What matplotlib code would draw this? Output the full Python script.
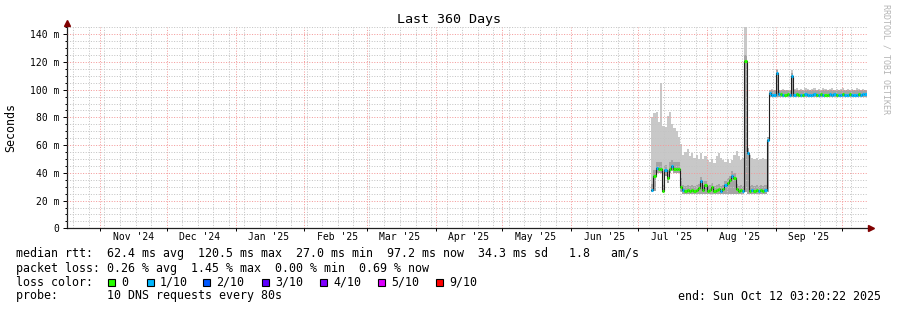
import matplotlib
matplotlib.use('Agg')
import matplotlib.pyplot as plt
import matplotlib.dates as mdates
import matplotlib.transforms as mtransforms
from matplotlib.patches import Rectangle
from matplotlib.ticker import MultipleLocator, NullFormatter
import pandas as pd

plt.rcParams['font.family'] = ['DejaVu Sans Mono', 'DejaVu Sans']

# time frame of the graph
graph_start = pd.Timestamp('2024-10-17 03:20:22')
graph_end = pd.Timestamp('2025-10-12 03:20:22')
data_start = pd.Timestamp('2025-07-07')

# one value per day (ms)
median_ms = [27.5, 38, 43.5, 43, 43, 27, 42, 36, 43, 45,
             43, 43, 43, 30, 27.5, 27, 27.5, 27, 27.5, 27,
             27.5, 29, 34, 27.5, 31, 27, 27.5, 30, 27, 27.5,
             28.5, 27, 28, 31, 33, 35, 38, 36, 28, 27,
             27.5, 27, 120.5, 54, 27, 27.5, 27, 27.5, 27, 27.5,
             27, 27.5, 63.5, 97.5, 96.5, 96.5, 112, 97, 97, 96.5,
             96.5, 97, 96.5, 110, 96.5, 97, 96.5, 96, 96.5, 97,
             96.5, 96, 96.5, 97, 96.5, 96.5, 97, 96.5, 96, 96.5,
             97, 96.5, 97, 96.5, 96, 96.5, 97, 96.5, 96.5, 97,
             96.5, 96, 96.5, 97, 96.5, 97, 97.2]

loss_tenths = [1, 0, 1, 0, 0, 0, 1, 0, 0, 1,
               0, 0, 0, 0, 1, 0, 0, 0, 0, 0,
               0, 0, 1, 0, 0, 0, 0, 0, 0, 0,
               0, 1, 0, 1, 0, 0, 1, 0, 0, 0,
               0, 1, 0, 1, 0, 1, 0, 0, 1, 0,
               0, 1, 1, 1, 1, 1, 1, 1, 0, 1,
               0, 0, 1, 1, 1, 0, 0, 1, 0, 1,
               1, 1, 1, 1, 0, 1, 0, 1, 0, 0,
               1, 1, 1, 0, 1, 1, 0, 1, 1, 0,
               1, 1, 1, 0, 1, 1, 1]

smoke_lo_ms = [26, 27, 40, 40, 40, 26, 38, 33, 40, 41,
               40, 40, 40, 26, 25, 24.5, 24.5, 25, 24.5, 24.5,
               25, 24.5, 24.5, 25, 24.5, 24.5, 24.5, 25, 24.5, 24.5,
               24.5, 25, 24.5, 24.5, 25, 24.5, 24.5, 25, 24.5, 24.5,
               24.5, 25, 26, 25, 24.5, 24.5, 25, 24.5, 24.5, 25,
               24.5, 24.5, 26, 94.5, 94.5, 94.5, 95, 94.5, 94.5, 94.5,
               94.5, 95, 94.5, 94.5, 94.5, 95, 94.5, 94.5, 94.5, 95,
               94.5, 94.5, 95, 94.5, 94.5, 94.5, 95, 94.5, 94.5, 94.5,
               95, 94.5, 94.5, 94.5, 95, 94.5, 94.5, 94.5, 95, 94.5,
               94.5, 94.5, 95, 94.5, 94.5, 94.5, 95]

smoke_mid_ms = [32, 42, 48, 48, 48, 31, 46, 42, 48, 49,
                48, 48, 48, 36, 31, 30.5, 31, 30.5, 31, 30.5,
                31, 32, 37, 31, 34, 30.5, 31, 33, 30.5, 31,
                32, 30.5, 31, 34, 36, 38, 41, 40, 32, 30.5,
                31, 30.5, 125, 58, 30.5, 31, 30.5, 31, 30.5, 31,
                30.5, 31, 66, 99.5, 99.5, 99.5, 114, 99.5, 99.5, 99.5,
                99.5, 99.5, 99.5, 112, 99.5, 99.5, 99.5, 99.5, 99.5, 99.5,
                99.5, 99.5, 99.5, 99.5, 99.5, 99.5, 99.5, 99.5, 99.5, 99.5,
                99.5, 99.5, 99.5, 99.5, 99.5, 99.5, 99.5, 99.5, 99.5, 99.5,
                99.5, 99.5, 99.5, 99.5, 99.5, 99.5, 99.5]

smoke_hi_ms = [80, 83, 84, 77, 105, 74, 73, 81, 84, 75,
               72, 70, 66, 61, 53, 55, 57, 52, 54, 51,
               53, 50, 54, 50, 52, 49, 48, 50, 47, 52,
               54, 51, 49, 48, 50, 47, 49, 53, 56, 52,
               49, 51, 150, 52, 53, 51, 50, 51, 49, 50,
               51, 50, 66, 100, 100.5, 100, 115, 100, 100, 100.5,
               100, 99.5, 100, 114, 100.5, 101, 100, 100.5, 100, 101,
               100.5, 100, 100.5, 101, 100, 100.5, 100, 101, 100.5, 100,
               100.5, 101, 100, 100.5, 100, 100.5, 101, 100, 100.5, 100,
               100.5, 100, 101, 100.5, 100, 100.5, 100]

loss_levels = [0, 1, 2, 3, 4, 5, 9]
loss_labels = ['0', '1/10', '2/10', '3/10', '4/10', '5/10', '9/10']
loss_colors = ['#26ff00', '#00b8ff', '#0059ff', '#5e00ff', '#7e00ff', '#dd00ff', '#ff0000']

month_labels = ["Nov '24", "Dec '24", "Jan '25", "Feb '25", "Mar '25", "Apr '25",
                "May '25", "Jun '25", "Jul '25", "Aug '25", "Sep '25"]
y_ticks = [0, 20, 40, 60, 80, 100, 120, 140]
y_labels = ['0', '20 m', '40 m', '60 m', '80 m', '100 m', '120 m', '140 m']

stats_rtt = 'median rtt:  62.4 ms avg  120.5 ms max  27.0 ms min  97.2 ms now  34.3 ms sd   1.8   am/s'
stats_loss = 'packet loss: 0.26 % avg  1.45 % max  0.00 % min  0.69 % now'
probe_text = 'probe:       10 DNS requests every 80s'
end_text = 'end: Sun Oct 12 03:20:22 2025'

# ----------------------------- PLOT -----------------------------
W, H = 897, 310
fig = plt.figure(figsize=(W / 100, H / 100), dpi=100)
ax = fig.add_axes([67 / W, 1 - 228.3 / H, 800 / W, 201 / H])


def px(x, y):
    return x / W, 1 - y / H


def ext(a):
    return list(a) + [a[-1]]


edges = mdates.date2num(pd.date_range(data_start, periods=len(median_ms) + 1, freq='D'))

# smoke
ax.fill_between(edges, ext(smoke_lo_ms), ext(smoke_hi_ms), step='post',
                color='#c8c8c8', lw=0, zorder=1)
ax.fill_between(edges, ext(smoke_lo_ms), ext(smoke_mid_ms), step='post',
                color='#a4a4a4', lw=0, zorder=1.2)

# median line, coloured by loss
ax.step(edges, ext(median_ms), where='post', color='#202020', lw=0.8, zorder=3)
seg_colors = [loss_colors[loss_levels.index(l)] for l in loss_tenths]
ax.hlines(median_ms, edges[:-1], edges[1:], colors=seg_colors, lw=2.2, zorder=4)

ax.set_xlim(mdates.date2num(graph_start), mdates.date2num(graph_end))
ax.set_ylim(0, 145)

# grid: weekly / 5 ms dotted grey, monthly / 20 ms dotted red
ax.xaxis.set_major_locator(mdates.MonthLocator())
ax.xaxis.set_minor_locator(mdates.WeekdayLocator(byweekday=mdates.SU))
ax.xaxis.set_major_formatter(NullFormatter())
ax.yaxis.set_minor_locator(MultipleLocator(5))
ax.set_yticks(y_ticks)
ax.set_yticklabels(y_labels)
ax.grid(which='minor', color='#c4c4c4', linestyle=(0, (1, 1.6)), linewidth=0.72)
ax.grid(which='major', color='#f49a9a', linestyle=(0, (1, 1.6)), linewidth=0.72)
ax.set_axisbelow(False)
for gl in ax.get_xgridlines() + ax.get_ygridlines():
    gl.set_zorder(2)
for gl in ax.xaxis.get_minorticklines():
    pass

ax.tick_params(axis='y', which='major', length=3, width=0.7, labelsize=7, pad=2.5, colors='#000000')
ax.tick_params(axis='y', which='minor', length=1.5, width=0.7)
ax.tick_params(axis='x', which='major', length=2, width=0.7)
ax.tick_params(axis='x', which='minor', length=0)

for side in ['top', 'right']:
    ax.spines[side].set_visible(False)
for side in ['left', 'bottom']:
    ax.spines[side].set_color('#202020')
    ax.spines[side].set_linewidth(0.9)

# arrows
ax.plot([0], [1], marker='^', ms=4, color='#800000', clip_on=False, zorder=6,
        transform=mtransforms.offset_copy(ax.transAxes, fig=fig, y=4, units='dots'))
ax.plot([1], [0], marker='>', ms=4, color='#800000', clip_on=False, zorder=6,
        transform=mtransforms.offset_copy(ax.transAxes, fig=fig, x=4, units='dots'))

# month labels centred in the month
for lbl, ms in zip(month_labels, pd.date_range('2024-11-01', periods=len(month_labels), freq='MS')):
    ax.text(mdates.date2num(ms + pd.Timedelta(days=15)), -9 / 201, lbl,
            transform=ax.get_xaxis_transform(), ha='center', va='center', fontsize=7)

# titles
fig.text(*px(448.5, 19), 'Last 360 Days', ha='center', va='center', fontsize=9.6)
fig.text(*px(11, 127.8), 'Seconds', rotation=90, ha='center', va='center', fontsize=8.4)
fig.text(*px(886, 59.5), 'RRDTOOL / TOBI OETIKER', rotation=270, ha='center', va='center',
         fontsize=6, color='#b4b4b4')

# legend / statistics
fig.text(*px(16, 254), stats_rtt, ha='left', va='center', fontsize=8.4)
fig.text(*px(16, 268.3), stats_loss, ha='left', va='center', fontsize=8.4)
fig.text(*px(16, 282.3), 'loss color:', ha='left', va='center', fontsize=8.4)
fig.text(*px(16, 296), probe_text, ha='left', va='center', fontsize=8.4)
fig.text(*px(881, 296), end_text, ha='right', va='center', fontsize=8.4)

box_x = [108, 147, 203, 262, 320, 378, 436]
for bx, lbl, col in zip(box_x, loss_labels, loss_colors):
    fig.patches.append(Rectangle(px(bx, 286), 7 / W, 7 / H, transform=fig.transFigure,
                                 facecolor=col, edgecolor='#000000', lw=0.8))
    fig.text(*px(bx + 13, 282.3), lbl, ha='left', va='center', fontsize=8.4)

fig.savefig('out.png', dpi=100, facecolor='white')
